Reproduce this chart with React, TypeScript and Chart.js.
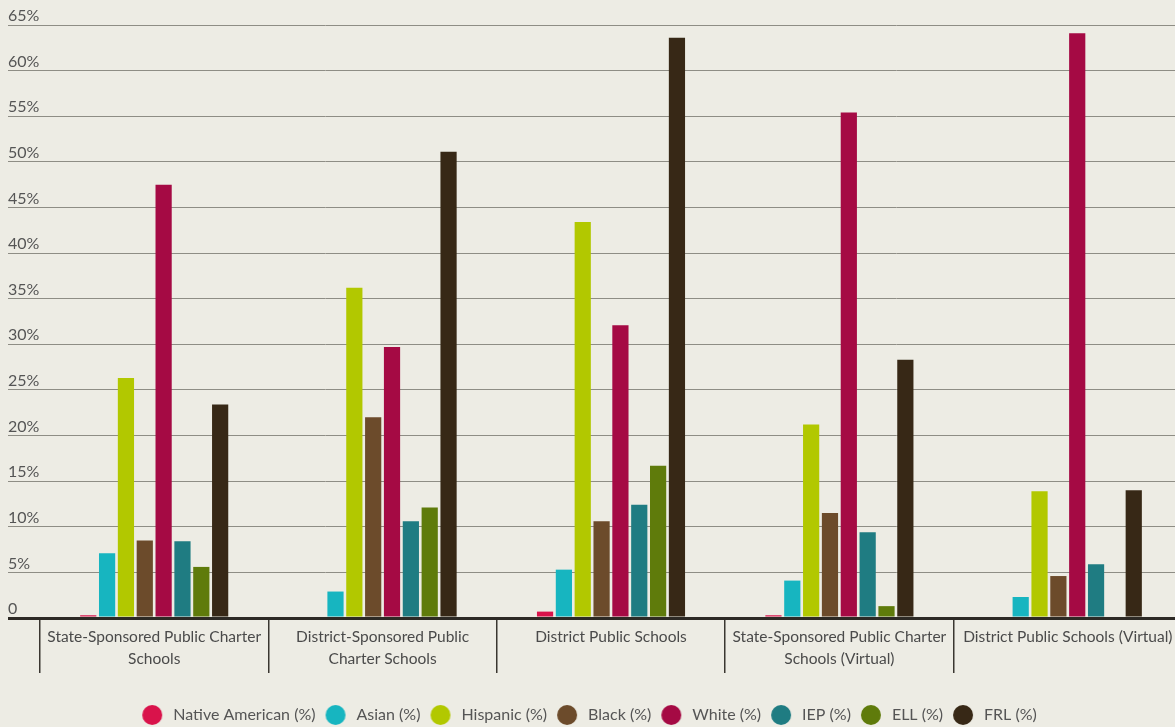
import React, { useEffect, useRef } from 'react';
import { Chart, registerables } from 'chart.js';

Chart.register(...registerables);

const categories: (string | string[])[] = [
  ['State-Sponsored Public Charter', 'Schools'],
  ['District-Sponsored Public', 'Charter Schools'],
  'District Public Schools',
  ['State-Sponsored Public Charter', 'Schools (Virtual)'],
  'District Public Schools (Virtual)',
];

const seriesNames = [
  'Native American (%)',
  'Asian (%)',
  'Hispanic (%)',
  'Black (%)',
  'White (%)',
  'IEP (%)',
  'ELL (%)',
  'FRL (%)',
];

const nativeAmerican = [0.3, 0, 0.7, 0.3, 0];
const asian = [7.1, 2.9, 5.3, 4.1, 2.3];
const hispanic = [26.3, 36.2, 43.4, 21.2, 13.9];
const black = [8.5, 22.0, 10.6, 11.5, 4.6];
const white = [47.5, 29.7, 32.1, 55.4, 64.1];
const iep = [8.4, 10.6, 12.4, 9.4, 5.9];
const ell = [5.6, 12.1, 16.7, 1.3, 0];
const frl = [23.4, 51.1, 63.6, 28.3, 14.0];

const seriesValues = [nativeAmerican, asian, hispanic, black, white, iep, ell, frl];

const seriesColors = [
  '#d9134b',
  '#17b5c0',
  '#b2c800',
  '#6c4b2b',
  '#a50a44',
  '#1f7c82',
  '#5f7b0b',
  '#372816',
];

const yMin = 0;
const yMax = 65;
const yStep = 5;

const FONT = "Lato, 'Open Sans', sans-serif";

function makeDot(color: string): HTMLCanvasElement {
  const c = document.createElement('canvas');
  c.width = 26;
  c.height = 22;
  const g = c.getContext('2d');
  if (g) {
    g.fillStyle = color;
    g.beginPath();
    g.arc(13, 11, 10, 0, Math.PI * 2);
    g.fill();
  }
  return c;
}

const shiftLegend = {
  id: 'shiftLegend',
  afterLayout(chart: any) {
    const l = chart.legend;
    if (l) {
      l.left -= 7;
      l.right -= 7;
    }
  },
};

export default function App() {
  const ref = useRef<HTMLCanvasElement | null>(null);

  useEffect(() => {
    if (!ref.current) return;
    const dots = seriesColors.map(makeDot);
    const chart = new Chart(ref.current, {
      type: 'bar',
      data: {
        labels: categories,
        datasets: seriesNames.map((name, i) => ({
          label: name,
          data: seriesValues[i],
          backgroundColor: seriesColors[i],
          borderWidth: 0,
          categoryPercentage: 0.66,
          barPercentage: 0.86,
        })),
      },
      plugins: [shiftLegend],
      options: {
        responsive: false,
        animation: false,
        devicePixelRatio: 1,
        layout: { padding: { top: 25, right: 6, left: 0, bottom: 0 } },
        font: { family: FONT },
        plugins: {
          tooltip: { enabled: false },
          legend: {
            position: 'bottom',
            labels: {
              usePointStyle: true,
              pointStyleWidth: 26,
              boxHeight: 14,
              padding: 7,
              color: '#555555',
              font: { family: FONT, size: 16 },
              generateLabels: (chart: any) => {
                const items = Chart.defaults.plugins.legend.labels.generateLabels(chart);
                return items.map((it: any, i: number) => ({ ...it, pointStyle: dots[i] }));
              },
            },
          },
        },
        scales: {
          x: {
            grid: {
              offset: true,
              drawOnChartArea: false,
              drawTicks: true,
              tickLength: 55,
              color: '#3a3630',
              lineWidth: 1.5,
            },
            border: { display: true, color: '#2d2a25', width: 3 },
            ticks: {
              color: '#4a4a4a',
              padding: -47,
              maxRotation: 0,
              autoSkip: false,
              font: { family: FONT, size: 15.5, lineHeight: 1.42 },
            },
            afterFit: (scale: any) => {
              scale.height = 82;
            },
          },
          y: {
            min: yMin,
            max: yMax,
            grid: {
              tickLength: 32,
              color: (ctx: any) => (ctx.tick && ctx.tick.value === 0 ? '#2d2a25' : '#8e8d85'),
              lineWidth: (ctx: any) => (ctx.tick && ctx.tick.value === 0 ? 3 : 1),
            },
            border: { display: false },
            ticks: {
              stepSize: yStep,
              crossAlign: 'far',
              labelOffset: -9,
              color: '#555555',
              font: { family: FONT, size: 16 },
              callback: (v: any) => (Number(v) === 0 ? '0' : v + '%'),
            },
            afterFit: (scale: any) => {
              scale.width = 32;
            },
          },
        },
      },
    } as any);
    return () => chart.destroy();
  }, []);

  return (
    <div
      style={{
        position: 'absolute',
        left: 0,
        top: 0,
        width: 1175,
        height: 727,
        overflow: 'hidden',
        background: '#edece4',
      }}
    >
      <canvas
        ref={ref}
        width={1180}
        height={733}
        style={{ position: 'absolute', left: 8, top: 0, width: 1180, height: 733 }}
      />
    </div>
  );
}
